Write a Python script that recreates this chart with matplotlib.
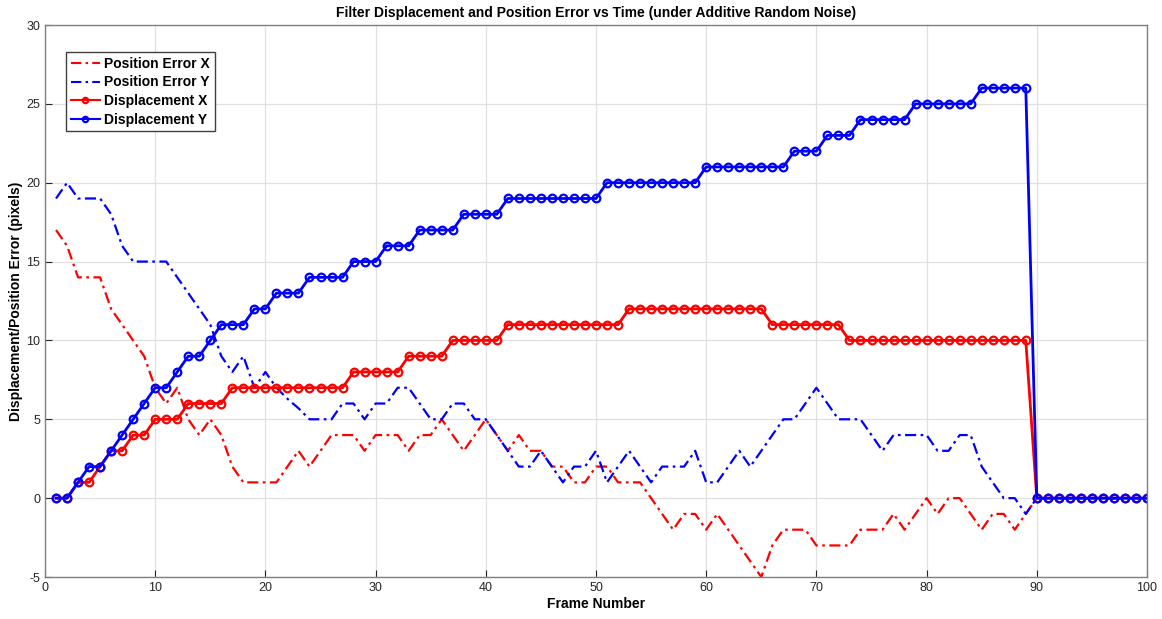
import matplotlib
matplotlib.use("Agg")
import matplotlib.pyplot as plt
import numpy as np

plt.rcParams['font.family'] = ['Liberation Sans', 'DejaVu Sans']
plt.rcParams['axes.unicode_minus'] = False

frames = list(range(1, 101))

pos_err_x = [17, 16, 14, 14, 14, 12, 11, 10, 9, 7,
             6, 7, 5, 4, 5, 4, 2, 1, 1, 1,
             1, 2, 3, 2, 3, 4, 4, 4, 3, 4,
             4, 4, 3, 4, 4, 5, 4, 3, 4, 5,
             4, 3, 4, 3, 3, 2, 2, 1, 1, 2,
             2, 1, 1, 1, 0, -1, -2, -1, -1, -2,
             -1, -2, -3, -4, -5, -3, -2, -2, -2, -3,
             -3, -3, -3, -2, -2, -2, -1, -2, -1, 0,
             -1, 0, 0, -1, -2, -1, -1, -2, -1, 0,
             0, 0, 0, 0, 0, 0, 0, 0, 0, 0]

pos_err_y = [19, 20, 19, 19, 19, 18, 16, 15, 15, 15,
             15, 14, 13, 12, 11, 9, 8, 9, 7, 8,
             7, 6.3, 5.7, 5, 5, 5, 6, 6, 5, 6,
             6, 7, 7, 6, 5, 5, 6, 6, 5, 5,
             4, 3, 2, 2, 3, 2, 1, 2, 2, 3,
             1, 2, 3, 2, 1, 2, 2, 2, 3, 1,
             1, 2, 3, 2, 3, 4, 5, 5, 6, 7,
             6, 5, 5, 5, 4, 3, 4, 4, 4, 4,
             3, 3, 4, 4, 2, 1, 0, 0, -1, 0,
             0, 0, 0, 0, 0, 0, 0, 0, 0, 0]

disp_x = ([0, 0, 1, 1, 2, 3, 3, 4, 4, 5, 5, 5, 6, 6, 6, 6]
          + [7] * 11 + [8] * 5 + [9] * 4 + [10] * 5 + [11] * 11
          + [12] * 13 + [11] * 7 + [10] * 17 + [0] * 11)

disp_y = ([0, 0, 1, 2, 2, 3, 4, 5, 6, 7, 7, 8, 9, 9, 10, 11, 11, 11,
           12, 12, 13, 13, 13, 14, 14, 14, 14, 15, 15, 15, 16, 16, 16,
           17, 17, 17, 17, 18, 18, 18, 18]
          + [19] * 9 + [20] * 9 + [21] * 8 + [22] * 3 + [23] * 3
          + [24] * 5 + [25] * 6 + [26] * 5 + [0] * 11)

fig = plt.figure(figsize=(11.62, 6.19), dpi=100)
ax = fig.add_axes([45 / 1162, 42 / 619, 1102 / 1162, 552 / 619])

dashdot = (0, (5, 2, 1.2, 2))
ax.plot(frames, pos_err_x, color='red', linestyle=dashdot, linewidth=1.6,
        label='Position Error X')
ax.plot(frames, pos_err_y, color='blue', linestyle=dashdot, linewidth=1.6,
        label='Position Error Y')
ax.plot(frames, disp_x, color='red', linestyle='-', linewidth=2.0,
        marker='o', markersize=5.5, markerfacecolor='none',
        markeredgewidth=1.6, label='Displacement X')
ax.plot(frames, disp_y, color='blue', linestyle='-', linewidth=2.0,
        marker='o', markersize=5.5, markerfacecolor='none',
        markeredgewidth=1.6, label='Displacement Y')

ax.set_xlim(0, 100)
ax.set_ylim(-5, 30)
ax.set_xticks(np.arange(0, 101, 10))
ax.set_yticks(np.arange(-5, 31, 5))
ax.grid(True, color='#e0e0e0', linewidth=0.9)
ax.set_axisbelow(True)
ax.tick_params(direction='in', length=5, labelsize=9, colors='#262626')
for s in ax.spines.values():
    s.set_color('#808080')
    s.set_linewidth(1.0)

ax.set_title('Filter Displacement and Position Error vs Time (under Additive Random Noise)',
             fontsize=10, fontweight='bold', pad=6)
ax.set_xlabel('Frame Number', fontsize=10, fontweight='bold', labelpad=2)
ax.set_ylabel('Displacement/Position Error (pixels)', fontsize=10,
              fontweight='bold', labelpad=2)

leg = ax.legend(loc='upper left', bbox_to_anchor=(21 / 1102, 1 - 27 / 552),
                borderaxespad=0,
                prop={'weight': 'bold', 'size': 10}, fancybox=False,
                edgecolor='#404040', framealpha=1, markerscale=0.7,
                handlelength=2.1, handletextpad=0.3, labelspacing=0.33,
                borderpad=0.35, numpoints=1)
leg.get_frame().set_linewidth(1.0)
for h in leg.get_lines():
    h.set_linewidth(1.5)

fig.savefig('out.png', dpi=100)
